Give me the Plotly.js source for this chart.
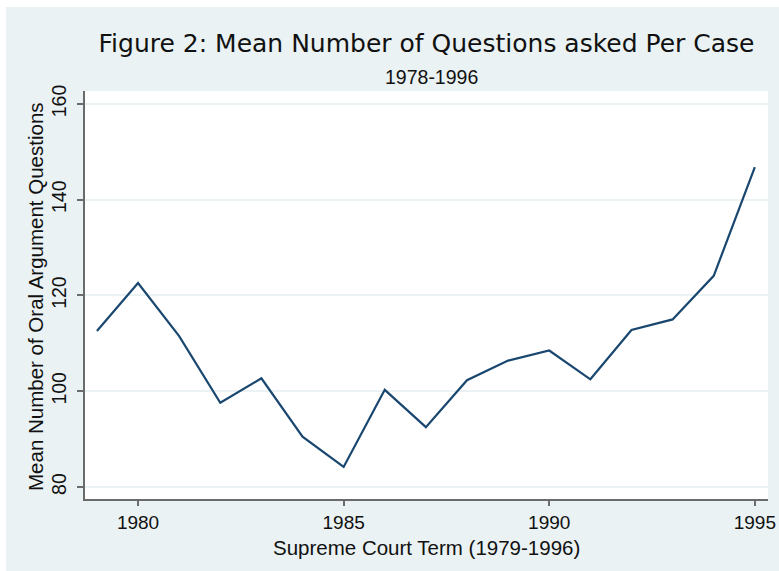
<!DOCTYPE html>
<html>
<head>
<meta charset="utf-8">
<script src="https://cdn.plot.ly/plotly-3.0.1.min.js"></script>
<style>html,body{margin:0;padding:0;background:#fff;}#chart{width:779px;height:571px;}</style>
</head>
<body>
<div id="chart"></div>
<script>
const years = [1979,1980,1981,1982,1983,1984,1985,1986,1987,1988,1989,1990,1991,1992,1993,1994,1995];
const meanQuestions = [112.6,122.6,111.5,97.6,102.7,90.5,84.2,100.3,92.5,102.3,106.4,108.5,102.5,112.8,115.0,124.1,146.8];
const yTicks = [80,100,120,140,160];
const xTicks = [1980,1985,1990,1995];

const bg = '#EAF2F3';
const txt = '#111111';
const sans = 'Liberation Sans, Arial, sans-serif';
const trace = {
  x: years, y: meanQuestions, type: 'scatter', mode: 'lines',
  line: {color: '#1A476F', width: 2.2}, hoverinfo: 'skip'
};
const layout = {
  width: 779, height: 571,
  margin: {l: 85, r: 11, t: 91, b: 72},
  paper_bgcolor: '#ffffff',
  plot_bgcolor: '#ffffff',
  showlegend: false,
  title: {
    text: 'Figure 2: Mean Number of Questions asked Per Case',
    font: {family: 'DejaVu Sans, Verdana, sans-serif', size: 25, color: txt},
    x: 0.5, xref: 'paper', xanchor: 'center',
    y: 1 - 43/571, yref: 'container', yanchor: 'middle'
  },
  annotations: [
    {text: '1978-1996', showarrow: false,
     xref: 'paper', yref: 'paper', x: 0.508, y: (499-77)/408,
     xanchor: 'center', yanchor: 'middle',
     font: {family: sans, size: 19.5, color: txt}},
    {text: 'Supreme Court Term (1979-1996)', showarrow: false,
     xref: 'paper', yref: 'paper', x: 0.5, y: (499-547)/408,
     xanchor: 'center', yanchor: 'middle',
     font: {family: sans, size: 20.5, color: txt}},
    {text: 'Mean Number of Oral Argument Questions', showarrow: false, textangle: -90,
     xref: 'paper', yref: 'paper', x: (35-85)/683, y: (499-297)/408,
     xanchor: 'center', yanchor: 'middle',
     font: {family: sans, size: 20.5, color: txt}}
  ],
  shapes: [
    {type: 'rect', xref: 'paper', yref: 'paper', x0: -0.1159, x1: 1.02, y0: -0.19, y1: 1.2059,
     fillcolor: bg, line: {width: 0}, layer: 'below'},
    {type: 'rect', xref: 'paper', yref: 'paper', x0: 0, x1: 1, y0: 0, y1: 1,
     fillcolor: '#ffffff', line: {width: 0}, layer: 'below'}
  ],
  xaxis: {
    range: [1978.71, 1995.32],
    tickvals: xTicks, ticktext: xTicks.map(String),
    showgrid: false, zeroline: false,
    showline: true, linecolor: '#6b6b6b', linewidth: 2,
    ticks: 'outside', ticklen: 5, tickwidth: 2, tickcolor: '#6b6b6b',
    tickfont: {family: sans, size: 19, color: txt},
    fixedrange: true
  },
  yaxis: {
    range: [77.5, 162.7],
    tickvals: yTicks, ticktext: yTicks.map(String), tickangle: -90,
    ticklabelstandoff: 3,
    showgrid: true, gridcolor: bg, gridwidth: 2, zeroline: false,
    showline: true, linecolor: '#6b6b6b', linewidth: 2,
    ticks: 'outside', ticklen: 6, tickwidth: 2, tickcolor: '#6b6b6b',
    tickfont: {family: sans, size: 19.5, color: txt},
    fixedrange: true
  }
};
Plotly.newPlot('chart', [trace], layout, {displayModeBar: false, staticPlot: true});
</script>
</body>
</html>
